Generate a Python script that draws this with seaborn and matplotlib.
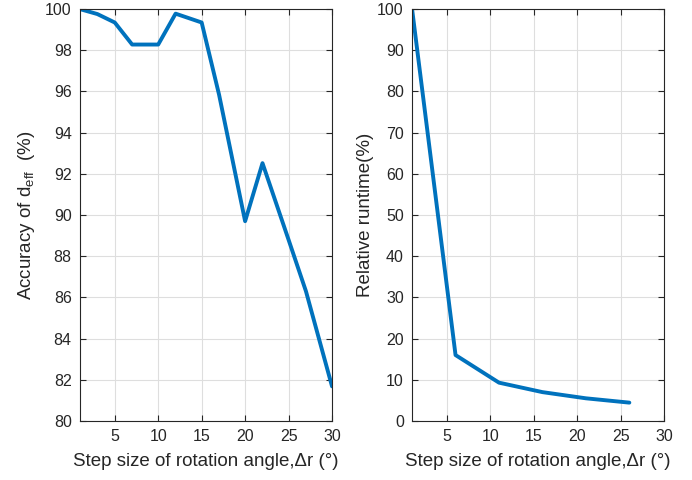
import matplotlib
matplotlib.use("Agg")
import matplotlib.pyplot as plt
import seaborn as sns
import pandas as pd

# Accuracy of effective distance vs. rotation step
acc_step = [1, 3, 5, 7, 10, 12, 15, 17, 20, 22, 25, 27, 30]
acc_value = [100.0, 99.76, 99.35, 98.28, 98.28, 99.78, 99.35, 95.85, 89.7, 92.52, 88.8, 86.3, 81.68]

# Relative runtime vs. rotation step
rt_step = [1, 6, 11, 16, 21, 26]
rt_value = [100.0, 16.0, 9.3, 7.0, 5.5, 4.45]

x_ticks = [5, 10, 15, 20, 25, 30]
acc_ticks = list(range(80, 101, 2))
rt_ticks = list(range(0, 101, 10))

line_color = "#0072BD"
text_color = "#262626"

sns.set_theme(style="whitegrid")
plt.rcParams["font.family"] = ["Liberation Sans", "DejaVu Sans"]
plt.rcParams["mathtext.fontset"] = "custom"
plt.rcParams["mathtext.rm"] = "Liberation Sans"
plt.rcParams["mathtext.it"] = "Liberation Sans:italic"

fig = plt.figure(figsize=(6.92, 4.8), dpi=100)
ax1 = fig.add_axes([0.1156, 0.123, 0.3642, 0.858])
ax2 = fig.add_axes([0.5955, 0.123, 0.3642, 0.858])

df_acc = pd.DataFrame({"step": acc_step, "acc": acc_value})
df_rt = pd.DataFrame({"step": rt_step, "rt": rt_value})

sns.lineplot(data=df_acc, x="step", y="acc", ax=ax1, color=line_color, linewidth=2.8)
sns.lineplot(data=df_rt, x="step", y="rt", ax=ax2, color=line_color, linewidth=2.8)

ax1.set_ylim(80, 100)
ax1.set_yticks(acc_ticks)
ax2.set_ylim(0, 100)
ax2.set_yticks(rt_ticks)

label_size = 13.5
ax1.set_ylabel(r"Accuracy of d$_{\mathrm{eff}}$  (%)", fontsize=label_size, color=text_color, labelpad=5.5)
ax2.set_ylabel("Relative runtime(%)", fontsize=label_size, color=text_color, labelpad=2)

for ax in (ax1, ax2):
    ax.set_facecolor("white")
    ax.set_xlim(1, 30)
    ax.set_xticks(x_ticks)
    ax.set_xlabel("Step size of rotation angle,\u0394r (\u00b0)", fontsize=label_size,
                  color=text_color, labelpad=6)
    ax.grid(True, color="#dedede", linewidth=0.8)
    ax.tick_params(direction="in", length=4, width=0.8, colors=text_color,
                   labelsize=11.5, top=True, right=True, bottom=True, left=True,
                   labelcolor=text_color, pad=6)
    for side in ax.spines.values():
        side.set_visible(True)
        side.set_color(text_color)
        side.set_linewidth(0.8)

fig.savefig("out.png", dpi=100, facecolor="white")
